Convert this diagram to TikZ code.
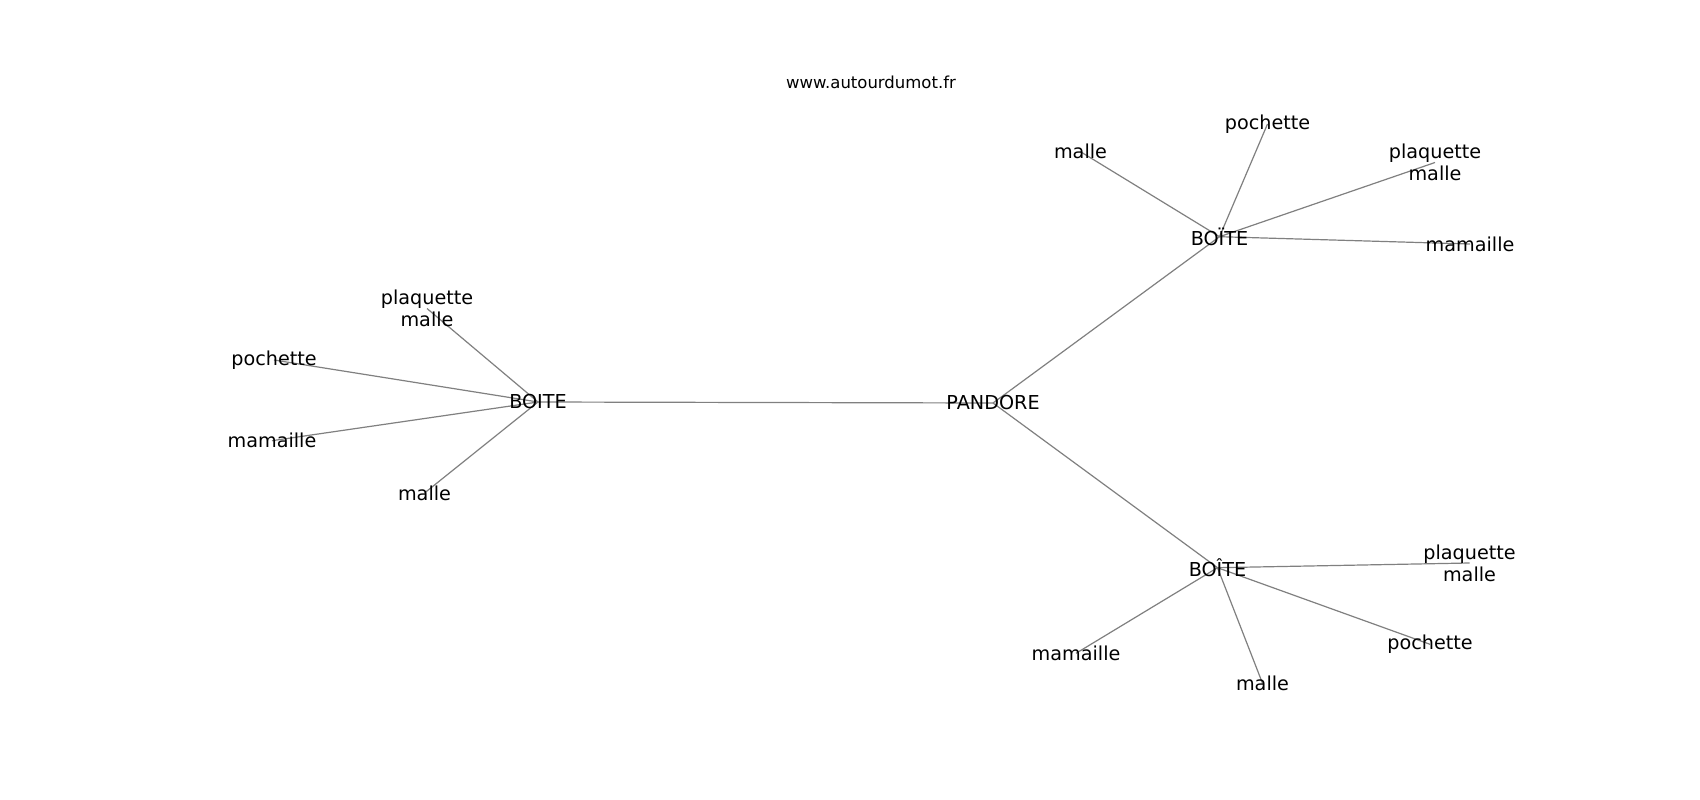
\documentclass[tikz,border=0pt]{standalone}
\usepackage{fontspec}
\setmainfont{DejaVu Sans}
\pgfdeclarelayer{bg}
\pgfsetlayers{bg,main}
\begin{document}
\begin{tikzpicture}[x=1pt,y=-1pt,
  lbl/.style={inner sep=0pt,align=center,font=\fontsize{19.2}{21.8}\selectfont},
  edge/.style={draw=black!50,line width=1.2pt}]
\useasboundingbox (0,0) rectangle (1700,800);
\node[inner sep=0pt,font=\fontsize{16.5}{19}\selectfont] (title) at (871,82.7) {www.autourdumot.fr};
% centre
\node[lbl] (pandore) at (993,403) {PANDORE};
% left cluster
\node[lbl] (b1) at (538,402) {BOITE};
\node[lbl] (b1pm) at (427,308.5) {plaquette\\malle};
\node[lbl] (b1po) at (274,360) {pochette};
\node[lbl] (b1ma) at (272,440.7) {mamaille};
\node[lbl] (b1mal) at (424.5,493) {malle};
% top right cluster
\node[lbl] (b2) at (1219.5,236.7) {BOÏTE};
\node[lbl] (b2mal) at (1080.5,151.7) {malle};
\node[lbl] (b2po) at (1267.5,124) {pochette};
\node[lbl] (b2pm) at (1435,162.5) {plaquette\\malle};
\node[lbl] (b2ma) at (1470,244) {mamaille};
% bottom right cluster
\node[lbl] (b3) at (1217.5,567.7) {BOÎTE};
\node[lbl] (b3pm) at (1469.5,563) {plaquette\\malle};
\node[lbl] (b3po) at (1430,644.3) {pochette};
\node[lbl] (b3mal) at (1262.5,683.3) {malle};
\node[lbl] (b3ma) at (1076,653.3) {mamaille};
\begin{pgfonlayer}{bg}
\fill[white] (0,0) rectangle (1700,800);
\draw[edge] (pandore.center) -- (b1.center);
\draw[edge] (pandore.center) -- (b2.center);
\draw[edge] (pandore.center) -- (b3.center);
\draw[edge] (b1.center) -- (b1pm.center);
\draw[edge] (b1.center) -- (b1po.center);
\draw[edge] (b1.center) -- (b1ma.center);
\draw[edge] (b1.center) -- (b1mal.center);
\draw[edge] (b2.center) -- (b2mal.center);
\draw[edge] (b2.center) -- (b2po.center);
\draw[edge] (b2.center) -- (b2pm.center);
\draw[edge] (b2.center) -- (b2ma.center);
\draw[edge] (b3.center) -- (b3pm.center);
\draw[edge] (b3.center) -- (b3po.center);
\draw[edge] (b3.center) -- (b3mal.center);
\draw[edge] (b3.center) -- (b3ma.center);
\end{pgfonlayer}
\end{tikzpicture}
\end{document}
